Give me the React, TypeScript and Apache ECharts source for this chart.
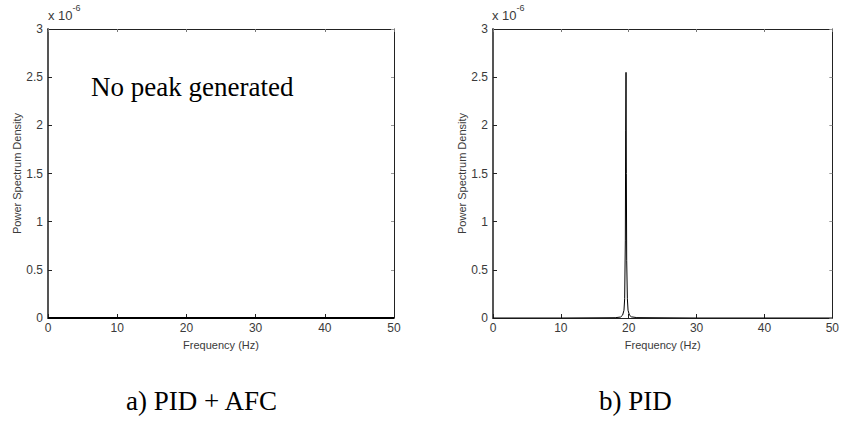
import React, { useEffect, useRef } from "react";
import * as echarts from "echarts";

// Frequencies (Hz) and power spectrum density (in units of 1e-6)
const freqA = [0, 10, 20, 30, 40, 50];
const psdA = [0, 0, 0, 0, 0, 0];

const freqB = [0, 10, 18.0, 18.8, 19.1, 19.3, 19.4, 19.5, 19.55, 19.6, 19.65, 19.7, 19.8, 19.9, 20.1, 20.4, 21.2, 30, 40, 50];
const psdB = [0, 0, 0.003, 0.01, 0.03, 0.08, 0.2, 0.8, 1.95, 2.55, 1.5, 0.6, 0.2, 0.08, 0.03, 0.012, 0.004, 0, 0, 0];

const xTicks = [0, 10, 20, 30, 40, 50];
const yTicks = [0, 0.5, 1, 1.5, 2, 2.5, 3];

const captions = ["a) PID + AFC", "b) PID"];
const annotation = "No peak generated";
const xName = "Frequency (Hz)";
const yName = "Power Spectrum Density";

export default function App() {
  const ref = useRef<HTMLDivElement>(null);
  useEffect(() => {
    if (!ref.current) return;
    const chart = echarts.init(ref.current, undefined, { renderer: "svg" });
    const grids = [
      { left: 48, right: 448, top: 29, bottom: 103 },
      { left: 493, right: 7, top: 29, bottom: 103 },
    ];
    const axisColor = "#222";
    const labelColor = "#3a3a3a";
    const font = "Liberation Sans, Arial, sans-serif";
    const serif = "Liberation Serif, Times New Roman, serif";
    const xAxes: any[] = [];
    const yAxes: any[] = [];
    grids.forEach((_, i) => {
      xAxes.push({
        type: "value",
        gridIndex: i,
        min: xTicks[0],
        max: xTicks[xTicks.length - 1],
        interval: xTicks[1] - xTicks[0],
        position: "bottom",
        name: xName,
        nameLocation: "middle",
        nameGap: 21,
        nameTextStyle: { color: labelColor, fontSize: 11, fontFamily: font },
        axisLine: { lineStyle: { color: axisColor, width: 1 } },
        axisTick: { inside: true, length: 4, lineStyle: { color: axisColor } },
        axisLabel: { color: labelColor, fontSize: 12, fontFamily: font, margin: 4 },
        splitLine: { show: false },
      });
      xAxes.push({
        type: "value",
        gridIndex: i,
        min: xTicks[0],
        max: xTicks[xTicks.length - 1],
        interval: xTicks[1] - xTicks[0],
        position: "top",
        axisLine: { show: true, onZero: false, lineStyle: { color: axisColor, width: 1 } },
        axisTick: { inside: true, length: 3, lineStyle: { color: "#777" } },
        axisLabel: { show: false },
        splitLine: { show: false },
      });
      yAxes.push({
        type: "value",
        gridIndex: i,
        min: yTicks[0],
        max: yTicks[yTicks.length - 1],
        interval: yTicks[1] - yTicks[0],
        position: "left",
        name: yName,
        nameLocation: "middle",
        nameGap: 25,
        nameTextStyle: { color: labelColor, fontSize: 11, fontFamily: font },
        axisLine: { show: true, lineStyle: { color: "#555", width: 2 } },
        axisTick: { show: true, inside: true, length: 4, lineStyle: { color: axisColor } },
        axisLabel: { color: labelColor, fontSize: 12, fontFamily: font, margin: 5 },
        splitLine: { show: false },
      });
      yAxes.push({
        type: "value",
        gridIndex: i,
        min: yTicks[0],
        max: yTicks[yTicks.length - 1],
        interval: yTicks[1] - yTicks[0],
        position: "right",
        axisLine: { show: true, onZero: false, lineStyle: { color: axisColor, width: 1 } },
        axisTick: { show: true, inside: true, length: 3, lineStyle: { color: "#999" } },
        axisLabel: { show: false },
        splitLine: { show: false },
      });
    });

    const exponent = (x: number) => ({
      type: "text",
      left: x,
      top: 3,
      style: {
        text: "{b|x 10}{s|-6}",
        rich: {
          b: { fontSize: 13, fill: labelColor, fontFamily: font, padding: [8, 0, 0, 0] },
          s: { fontSize: 9, fill: labelColor, fontFamily: font, padding: [0, 0, 8, 0] },
        },
      },
    });

    chart.setOption({
      animation: false,
      grid: grids,
      xAxis: xAxes,
      yAxis: yAxes,
      series: [
        {
          type: "line",
          xAxisIndex: 0,
          yAxisIndex: 0,
          data: freqA.map((f, k) => [f, psdA[k]]),
          showSymbol: false,
          lineStyle: { color: "#000", width: 2 },
        },
        {
          type: "line",
          xAxisIndex: 2,
          yAxisIndex: 2,
          data: freqB.map((f, k) => [f, psdB[k]]),
          showSymbol: false,
          lineStyle: { color: "#000", width: 1 },
        },
      ],
      graphic: [
        exponent(48),
        exponent(492),
        {
          type: "text",
          left: 91,
          top: 73,
          style: { text: annotation, fontSize: 27, fontFamily: serif, fill: "#000" },
        },
        {
          type: "text",
          left: 126,
          top: 387,
          style: { text: captions[0], fontSize: 27, fontFamily: serif, fill: "#000" },
        },
        {
          type: "text",
          left: 599,
          top: 387,
          style: { text: captions[1], fontSize: 27, fontFamily: serif, fill: "#000" },
        },
      ],
    });
    return () => chart.dispose();
  }, []);
  return <div ref={ref} style={{ width: 842, height: 421, position: "absolute", left: 0, top: 0, background: "#fff" }} />;
}
